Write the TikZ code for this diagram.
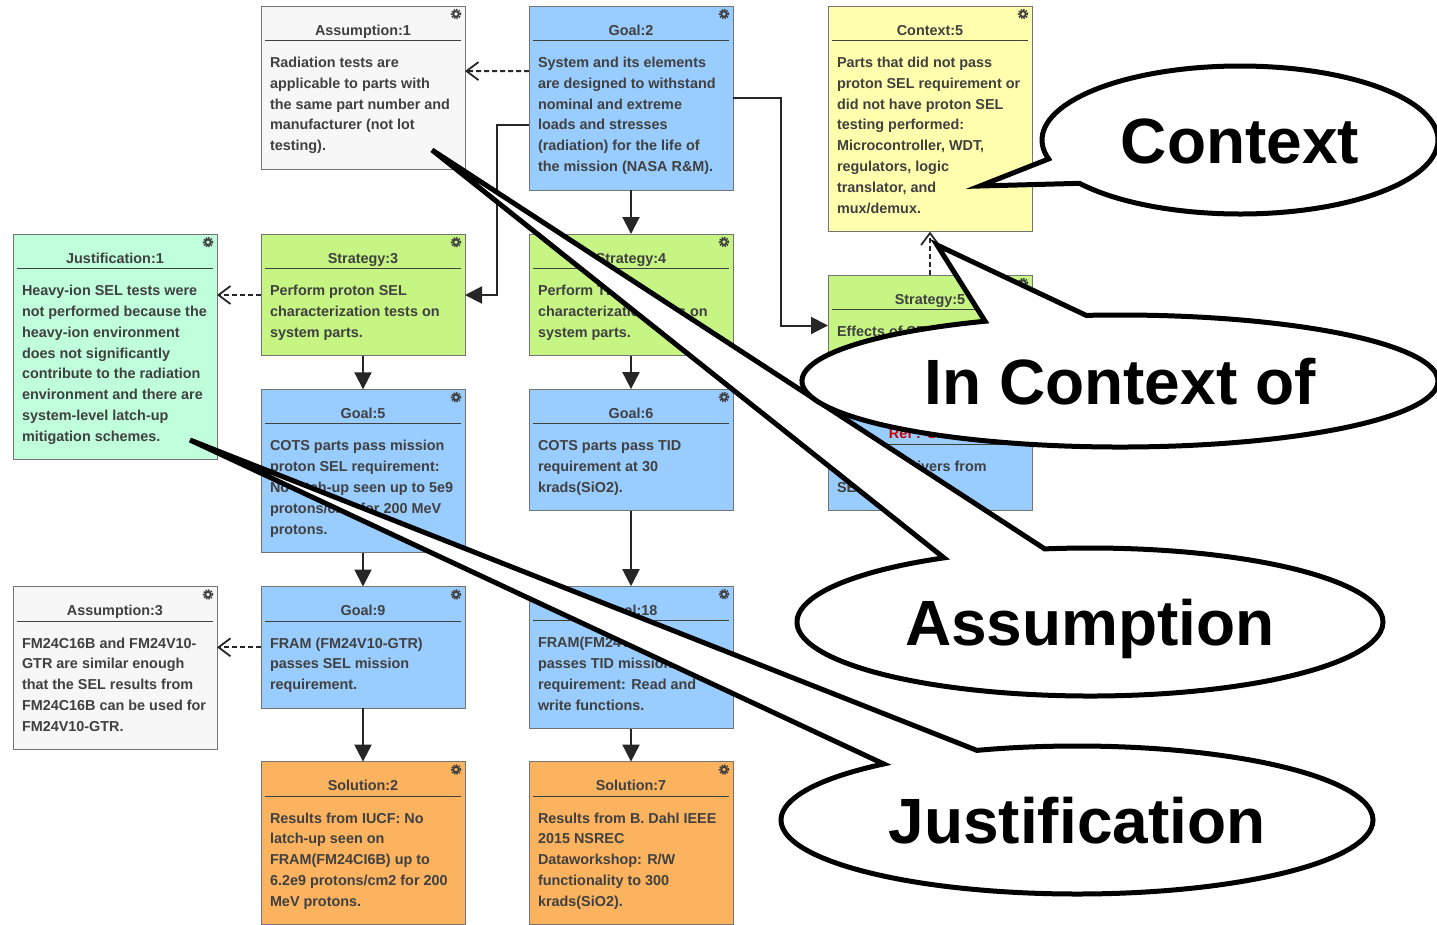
\documentclass[tikz,border=0pt]{standalone}
\usepackage{fontspec}
\setmainfont{Liberation Sans}
\usetikzlibrary{arrows.meta,positioning,shapes.callouts}
\definecolor{goalblue}{HTML}{99CCFF}
\definecolor{strategygreen}{HTML}{C6F584}
\definecolor{contextyellow}{HTML}{FFFFAD}
\definecolor{justifygreen}{HTML}{BFFFDC}
\definecolor{assumptiongray}{HTML}{F7F7F7}
\definecolor{solutionorange}{HTML}{FBB35F}
\definecolor{boxtext}{HTML}{404040}
\newcommand{\boxlines}[2]{%
  \begin{minipage}{196pt}
    \centering\rule[-5pt]{0pt}{34pt}#1\par
    \nointerlineskip\hrule height 1pt
    \raggedright\leftskip=5pt
    \rule{0pt}{26.5pt}#2\rule[-18.5pt]{0pt}{0pt}\par
  \end{minipage}}

\begin{document}
\begin{tikzpicture}[x=1pt, y=-1pt,
                    box/.style={draw=gray!90!black, line width=1pt, rectangle, inner xsep=4pt, inner ysep=0pt,
                                outer sep=0pt, text=boxtext,
                                font=\fontsize{14.4}{20.8}\selectfont\bfseries,
                                path picture={
                                  \draw [boxtext, line width=2pt] ([xshift=-9pt,yshift=-8pt]path picture bounding box.north east) circle (2.8pt);
                                  \draw [boxtext, line width=1.5pt, dash pattern=on 1.5pt off 1.2pt] ([xshift=-9pt,yshift=-8pt]path picture bounding box.north east) circle (4.6pt);
                                }},
                    goal/.style={box, fill=goalblue},
                    strategy/.style={box, fill=strategygreen},
                    context/.style={box, fill=contextyellow},
                    justification/.style={box, fill=justifygreen},
                    assumption/.style={box, fill=assumptiongray},
                    solution/.style={box, fill=solutionorange},
                    line/.style={draw=black!85, line width=2pt, -{Triangle[length=17pt,width=17pt]}},
                    dashline/.style={draw=black!85, line width=2pt, dash pattern=on 5pt off 3pt, -{Straight Barb[length=12pt,width=18pt,line width=1.8pt]}},
                    bubble/.style={ellipse callout, draw=black, fill=white, line width=5pt, inner sep=0pt, outer sep=0pt,
                                   callout pointer arc=21, minimum height=148pt, text height=46pt, text depth=0pt,
                                   font=\fontsize{64}{70}\selectfont\bfseries}]
    \useasboundingbox (0,0) rectangle (1437,924);

    % Nodes
    \node [assumption, anchor=north west] at (261,6) (assumptionA)
        {\boxlines{Assumption:1}{Radiation tests are\\applicable to parts with\\the same part number and\\manufacturer (not lot\\testing).}};
    \node [goal, right=64pt of assumptionA.north east, anchor=north west] (goalB)
        {\boxlines{Goal:2}{System and its elements\\are designed to withstand\\nominal and extreme\\loads and stresses\\(radiation) for the life of\\the mission (NASA R\&M).}};
    \node [context, right=95pt of goalB.north east, anchor=north west] (contextE)
        {\boxlines{Context:5}{Parts that did not pass\\proton SEL requirement or\\did not have proton SEL\\testing performed:\\Microcontroller, WDT,\\regulators, logic\\translator, and\\mux/demux.}};
    \node [strategy, below=65pt of assumptionA] (strategyC)
        {\boxlines{Strategy:3}{Perform proton SEL\\characterization tests on\\system parts.}};
    \node [strategy, below=44pt of goalB] (strategyD)
        {\boxlines{Strategy:4}{Perform TID\\characterization tests on\\system parts.}};
    \node [strategy, below=43.5pt of contextE] (strategyE)
        {\boxlines{Strategy:5}{Effects of SEL on\\system parts.}};
    \node [justification, left=44pt of strategyC.north west, anchor=north east] (justificationA)
        {\boxlines{Justification:1}{Heavy-ion SEL tests were\\not performed because the\\heavy-ion environment\\does not significantly\\contribute to the radiation\\environment and there are\\system-level latch-up\\mitigation schemes.}};
    \node [goal, below=33.5pt of strategyC] (goalE)
        {\boxlines{Goal:5}{COTS parts pass mission\\proton SEL requirement:\\No latch-up seen up to 5e9\\protons/cm2 for 200 MeV\\protons.}};
    \node [goal, below=33.5pt of strategyD] (goalF)
        {\boxlines{Goal:6}{COTS parts pass TID\\requirement at 30\\krads(SiO2).}};
    \node [goal, below=34pt of strategyE] (refGoal)
        {\boxlines{\textcolor{red!80!black}{Ref : Goal:9}}{Effect on drivers from\\SEL tests.}};
    \node [goal, below=34pt of goalE] (goalI)
        {\boxlines{Goal:9}{FRAM (FM24V10-GTR)\\passes SEL mission\\requirement.}};
    \node [goal, below=75.5pt of goalF] (goalR)
        {\boxlines{Goal:18}{FRAM(FM24V10-GTR)\\passes TID mission\\requirement: Read and\\write functions.}};
    \node [assumption, left=44pt of goalI.north west, anchor=north east] (assumptionC)
        {\boxlines{Assumption:3}{FM24C16B and FM24V10-\\GTR are similar enough\\that the SEL results from\\FM24C16B can be used for\\FM24V10-GTR.}};
    \node [solution, below=53.5pt of goalI] (solutionB)
        {\boxlines{Solution:2}{Results from IUCF: No\\latch-up seen on\\FRAM(FM24CI6B) up to\\6.2e9 protons/cm2 for 200\\MeV protons.}};
    \node [solution, below=33pt of goalR] (solutionG)
        {\boxlines{Solution:7}{Results from B. Dahl IEEE\\2015 NSREC\\Dataworkshop: R/W\\functionality to 300\\krads(SiO2).}};

    % Paths
    \path [dashline] ([yshift=27pt]goalB.west) -- ([yshift=16.5pt]assumptionA.east);
    \path [line] ([yshift=-27pt]goalB.west) -- ++(-32,0) |- (strategyC.east);
    \path [line] (goalB.east) -- ++(48,0) |- (strategyE.west);
    \path [line] (goalB) -- (strategyD);
    \path [dashline] (strategyC.west) -- (strategyC.west -| justificationA.east);
    \path [line] (strategyC) -- (goalE);
    \path [line] (strategyD) -- (goalF);
    \path [dashline] (strategyE) -- (contextE);
    \path [line] (goalE) -- (goalI);
    \path [line] (goalF) -- (goalR);
    \path [dashline] (goalI.west) -- (goalI.west -| assumptionC.east);
    \path [line] (goalI) -- (solutionB);
    \path [line] (goalR) -- (solutionG);

    % Callouts
    \node [bubble, minimum width=396pt, callout absolute pointer={(980,186)}] at (1240,140) (contextCallout) {Context};
    \node [bubble, minimum width=586pt, callout absolute pointer={(432,150)}] at (1090,622) (assumptionCallout) {Assumption};
    \node [bubble, minimum width=592pt, callout absolute pointer={(190,440)}] at (1077,820) (justificationCallout) {Justification};
    \node [bubble, minimum width=636pt, minimum height=132pt, callout pointer arc=19, callout absolute pointer={(937,245)}] at (1120,381) (inContextCallout) {In Context of};
\end{tikzpicture}
\end{document}
